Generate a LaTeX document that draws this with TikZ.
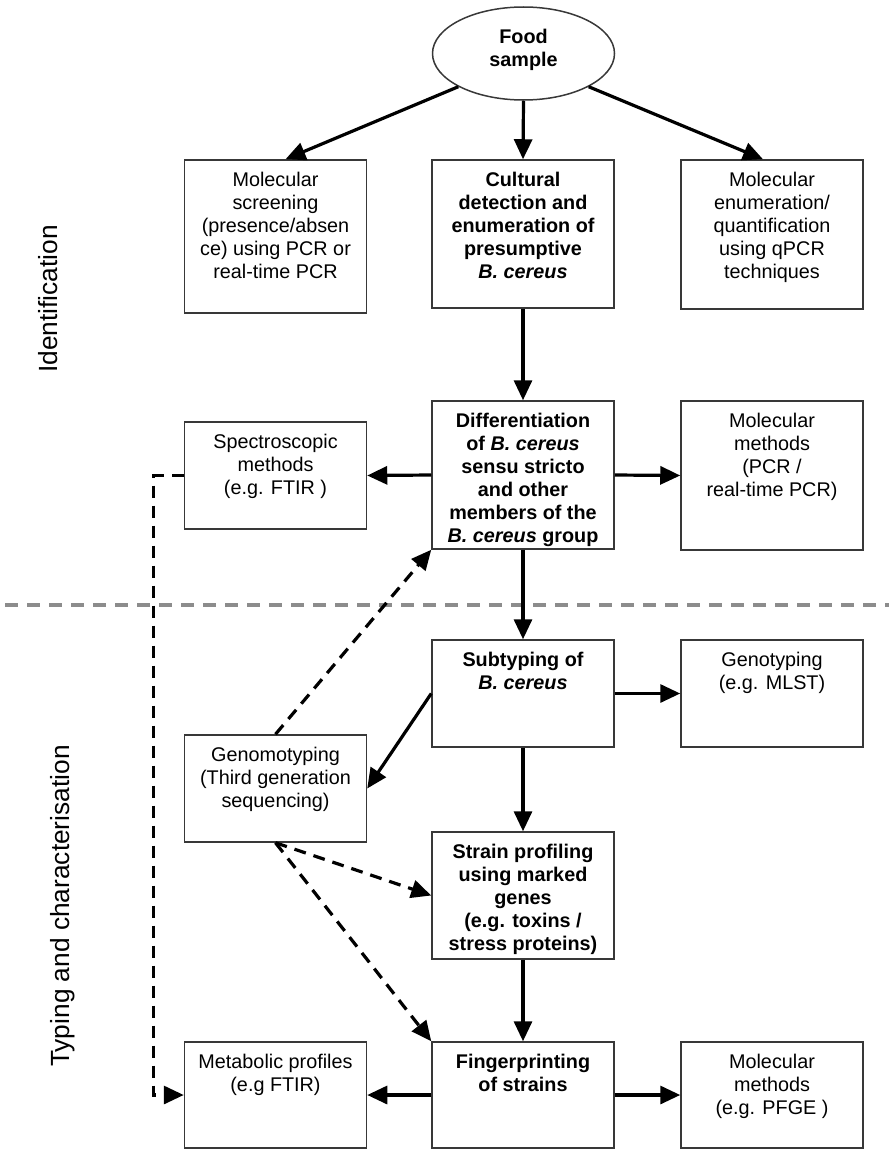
\documentclass[tikz,border=0pt]{standalone}
\usepackage{fontspec}
\setmainfont{Liberation Sans}
\usetikzlibrary{arrows.meta,calc,shapes.geometric}
\definecolor{boxcol}{HTML}{383838}
\definecolor{sepcol}{HTML}{8C8C8C}
\newcommand{\bxt}[2]{\parbox[c][#1][t]{182pt}{\centering\rule{0pt}{26pt}#2}}
\begin{document}
\begin{tikzpicture}[x=1pt,y=-1pt,
  boxstyle/.style={draw=boxcol, line width=1.5pt, inner sep=0pt, fill=white,
    font=\fontsize{19.8}{23}\selectfont},
  boldbox/.style={boxstyle, font=\fontsize{19.8}{23}\selectfont\bfseries},
  arr/.style={line width=3.2pt, -{Triangle[length=20pt,width=18pt]}},
  darr/.style={line width=3.2pt, dash pattern=on 12pt off 8pt, -{Triangle[length=20pt,width=18pt]}},
  sepline/.style={draw=sepcol, line width=3.2pt, dash pattern=on 13pt off 9pt},
  sidelabel/.style={rotate=90, anchor=base, inner sep=0pt, font=\fontsize{26.3}{30}\selectfont}
]
\useasboundingbox (0,0) rectangle (892,1156);

% separator
\coordinate (sepL) at (5,605);
\coordinate (sepR) at (889,605);
\draw[sepline] (sepL) -- (sepR);

% side labels
\node[sidelabel] (lblid) at (57,299) {Identification};
\node[sidelabel] (lbltyp) at (69,906) {Typing and characterisation};

% ellipse
\node[ellipse, draw=boxcol, line width=1.5pt, inner sep=0pt, minimum width=182pt, minimum height=93pt,
  font=\fontsize{19.8}{23}\selectfont\bfseries] (ell) at (523.5,53.5)
  {\parbox[c][60pt][t]{100pt}{\centering\rule{0pt}{20.5pt}Food\\sample}};

% row 1
\node[boxstyle] (m1) at (275.5,236.5) {\bxt{153pt}{Molecular\\screening\\(presence/absen\\ce) using PCR or\\real-time PCR}};
\node[boldbox] (cult) at (523,234) {\bxt{148pt}{Cultural\\detection and\\enumeration of\\presumptive\\\textit{B. cereus}}};
\node[boxstyle] (m2) at (772,234.5) {\bxt{149pt}{Molecular\\enumeration/\\quantification\\using qPCR\\techniques}};

% row 2
\node[boxstyle] (spec) at (275.5,475.5) {\bxt{107pt}{Spectroscopic\\methods\\(e.g. FTIR )}};
\node[boldbox] (diff) at (523,475) {\bxt{148pt}{Differentiation\\of \textit{B. cereus}\\sensu stricto\\and other\\members of the\\\textit{B. cereus} group}};
\node[boxstyle] (pcr) at (772,475.5) {\bxt{149pt}{Molecular\\methods\\(PCR /\\real-time PCR)}};

% row 3
\node[boldbox] (sub) at (523,693.5) {\bxt{107pt}{Subtyping of\\\textit{B. cereus}}};
\node[boxstyle] (geno) at (772,693.5) {\bxt{107pt}{Genotyping\\(e.g. MLST)}};
\node[boxstyle] (gmt) at (275.5,788.5) {\bxt{107pt}{Genomotyping\\(Third generation\\sequencing)}};
\node[boldbox] (strain) at (523,895.5) {\bxt{127pt}{Strain profiling\\using marked\\genes\\(e.g. toxins /\\stress proteins)}};

% row 4
\node[boxstyle] (meta) at (275.5,1095) {\bxt{106pt}{Metabolic profiles\\(e.g FTIR)}};
\node[boldbox] (fing) at (523,1095) {\bxt{106pt}{Fingerprinting\\of strains}};
\node[boxstyle] (pfge) at (772,1095) {\bxt{106pt}{Molecular\\methods\\(e.g. PFGE )}};

% solid arrows
\draw[arr] (ell.-153) -- ($(m1.north)+(10,0)$);
\draw[arr] (ell.south) -- (cult.north);
\draw[arr] (ell.-27) -- ($(m2.north)+(-9,0)$);
\draw[arr] (cult.south) -- (diff.north);
\draw[arr] (diff.west) -- (spec.east);
\draw[arr] (diff.east) -- (pcr.west);
\draw[arr] (diff.south) -- (sub.north);
\draw[arr] (sub.east) -- (geno.west);
\draw[arr] (sub.west) -- (gmt.east);
\draw[arr] (sub.south) -- (strain.north);
\draw[arr] (strain.south) -- (fing.north);
\draw[arr] (fing.west) -- (meta.east);
\draw[arr] (fing.east) -- (pfge.west);

% dashed arrows
\coordinate (bendA) at ($(spec.west)+(-30,0)$);
\draw[darr] (spec.west) -- (bendA) |- (meta.west);
\draw[darr] (gmt.north) -- (diff.south west);
\draw[darr] (gmt.south) -- (strain.west);
\draw[darr] (gmt.south) -- (fing.north west);
\end{tikzpicture}
\end{document}
